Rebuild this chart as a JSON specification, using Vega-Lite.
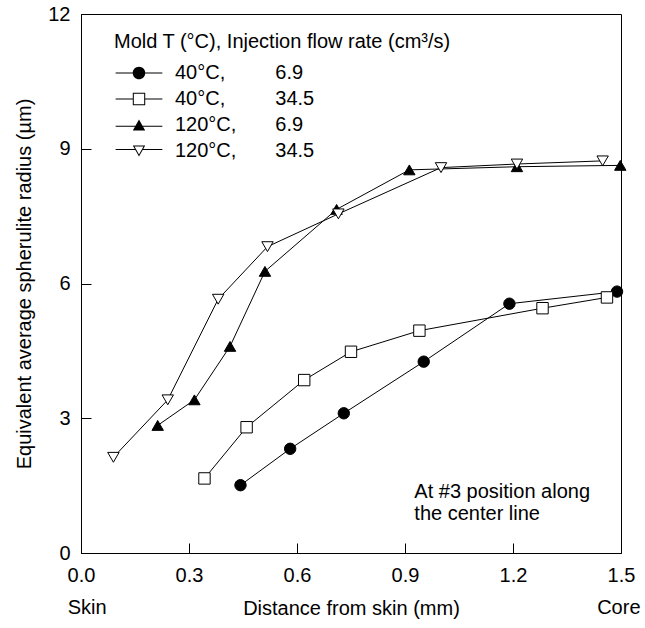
{
  "$schema": "https://vega.github.io/schema/vega-lite/v6.json",
  "width": 540,
  "height": 539,
  "autosize": {"type": "none"},
  "padding": {"left": 81, "top": 14, "right": 24, "bottom": 75},
  "background": "white",
  "config": {
    "font": "Liberation Sans",
    "view": {"stroke": "black", "strokeWidth": 1},
    "axis": {"domainColor": "black", "tickColor": "black", "labelColor": "black", "titleColor": "black", "grid": false, "labelFontSize": 20, "titleFontSize": 20, "titleFontWeight": "normal", "labelFont": "Liberation Sans", "titleFont": "Liberation Sans"}
  },
  "datasets": {
    "series": [
      {"series": "40°C, 6.9", "x": 0.443, "y": 1.51},
      {"series": "40°C, 6.9", "x": 0.581, "y": 2.32},
      {"series": "40°C, 6.9", "x": 0.730, "y": 3.11},
      {"series": "40°C, 6.9", "x": 0.952, "y": 4.26},
      {"series": "40°C, 6.9", "x": 1.190, "y": 5.55},
      {"series": "40°C, 6.9", "x": 1.489, "y": 5.82},
      {"series": "40°C, 34.5", "x": 0.343, "y": 1.66},
      {"series": "40°C, 34.5", "x": 0.460, "y": 2.80},
      {"series": "40°C, 34.5", "x": 0.620, "y": 3.85},
      {"series": "40°C, 34.5", "x": 0.750, "y": 4.48},
      {"series": "40°C, 34.5", "x": 0.940, "y": 4.95},
      {"series": "40°C, 34.5", "x": 1.282, "y": 5.45},
      {"series": "40°C, 34.5", "x": 1.461, "y": 5.69},
      {"series": "120°C, 6.9", "x": 0.213, "y": 2.84},
      {"series": "120°C, 6.9", "x": 0.315, "y": 3.41},
      {"series": "120°C, 6.9", "x": 0.414, "y": 4.60},
      {"series": "120°C, 6.9", "x": 0.511, "y": 6.27},
      {"series": "120°C, 6.9", "x": 0.710, "y": 7.65},
      {"series": "120°C, 6.9", "x": 0.912, "y": 8.53},
      {"series": "120°C, 6.9", "x": 1.211, "y": 8.60},
      {"series": "120°C, 6.9", "x": 1.498, "y": 8.63},
      {"series": "120°C, 34.5", "x": 0.090, "y": 2.13},
      {"series": "120°C, 34.5", "x": 0.241, "y": 3.41},
      {"series": "120°C, 34.5", "x": 0.381, "y": 5.65},
      {"series": "120°C, 34.5", "x": 0.518, "y": 6.82},
      {"series": "120°C, 34.5", "x": 0.715, "y": 7.55},
      {"series": "120°C, 34.5", "x": 1.000, "y": 8.58},
      {"series": "120°C, 34.5", "x": 1.211, "y": 8.66},
      {"series": "120°C, 34.5", "x": 1.449, "y": 8.73}
    ],
    "ends": [
      {"x": 0.017, "y": -1.22, "t": "Skin"},
      {"x": 1.494, "y": -1.22, "t": "Core"}
    ],
    "note": [
      {"x": 0.926, "y": 1.35, "t": "At #3 position along"},
      {"x": 0.926, "y": 0.86, "t": "the center line"}
    ]
  },
  "resolve": {"scale": {"shape": "independent"}},
  "layer": [
    {
      "data": {"name": "series"},
      "mark": {"type": "line", "color": "black", "strokeWidth": 1},
      "encoding": {
        "x": {"field": "x", "type": "quantitative", "scale": {"domain": [0, 1.5], "nice": false},
          "axis": {"values": [0, 0.3, 0.6, 0.9, 1.2, 1.5], "format": ".1f", "tickSize": -10, "labelPadding": 22, "labelFlush": false, "title": "Distance from skin (mm)", "titlePadding": 13}},
        "y": {"field": "y", "type": "quantitative", "scale": {"domain": [0, 12], "nice": false},
          "axis": {"values": [0, 3, 6, 9, 12], "tickSize": -10, "labelPadding": 21, "labelFlush": false, "title": "Equivalent average spherulite radius (µm)", "titlePadding": 13}},
        "detail": {"field": "series", "type": "nominal"}
      }
    },
    {
      "data": {"name": "series"},
      "mark": {"type": "point", "filled": true, "strokeWidth": 1, "size": 130, "opacity": 1},
      "encoding": {
        "x": {"field": "x", "type": "quantitative"},
        "y": {"field": "y", "type": "quantitative"},
        "shape": {"field": "series", "type": "nominal",
          "scale": {"domain": ["40°C, 6.9", "40°C, 34.5", "120°C, 6.9", "120°C, 34.5"], "range": ["circle", "square", "triangle-up", "triangle-down"]},
          "legend": null},
        "fill": {"field": "series", "type": "nominal",
          "scale": {"domain": ["40°C, 6.9", "40°C, 34.5", "120°C, 6.9", "120°C, 34.5"], "range": ["black", "white", "black", "white"]},
          "legend": null},
        "stroke": {"field": "series", "type": "nominal",
          "scale": {"domain": ["40°C, 6.9", "40°C, 34.5", "120°C, 6.9", "120°C, 34.5"], "range": ["black", "black", "black", "black"]},
          "legend": null}
      }
    },
    {
      "data": {"name": "series"},
      "transform": [{"filter": "false"}],
      "mark": {"type": "point", "filled": true, "strokeWidth": 1, "size": 130, "opacity": 1},
      "encoding": {
        "x": {"field": "x", "type": "quantitative"},
        "y": {"field": "y", "type": "quantitative"},
        "shape": {"field": "series", "type": "nominal",
          "scale": {"domain": ["40°C, 6.9", "40°C, 34.5", "120°C, 6.9", "120°C, 34.5"],
            "range": [
              "M-4.1,-0.088H-1V0.088H-4.1ZM1,-0.088H4.1V0.088H1ZM-1.1,0A1.1,1.1,0,1,1,1.1,0A1.1,1.1,0,1,1,-1.1,0Z",
              "M-4.1,-0.088H-1.09V0.088H-4.1ZM1.09,-0.088H4.1V0.088H1.09ZM-1.09,-1.09H1.09V1.09H-1.09ZM-0.91,-0.91V0.91H0.91V-0.91Z",
              "M-4.1,0.11H4.1V0.29H-4.1ZM0,-0.95L1.09,0.95H-1.09Z",
              "M-4.1,-0.36H-0.68V-0.18H-4.1ZM0.68,-0.36H4.1V-0.18H0.68ZM-1.09,-0.95H1.09L0,0.95ZM-0.788,-0.775L0,0.598L0.788,-0.775Z"
            ]},
          "legend": {
            "title": "Mold T (°C), Injection flow rate (cm³/s)",
            "orient": "none", "legendX": 33, "legendY": 18, "padding": 0,
            "titleFontSize": 20, "titleFontWeight": "normal", "titleColor": "black", "titleFont": "Liberation Sans", "titlePadding": 11, "titleLimit": 500,
            "labelFontSize": 20, "labelColor": "black", "labelFont": "Liberation Sans", "labelLimit": 500,
            "symbolSize": 130, "symbolOffset": 15, "labelOffset": 26, "rowPadding": 6, "symbolStrokeWidth": 0,
            "labelExpr": "indexof(datum.label, '120') == 0 ? replace(datum.label, ' ', '\u00a0\u00a0\u00a0\u00a0\u00a0\u00a0\u00a0') : replace(datum.label, ' ', '\u00a0\u00a0\u00a0\u00a0\u00a0\u00a0\u00a0\u00a0\u00a0')"
          }},
        "fill": {"field": "series", "type": "nominal", "legend": null},
        "stroke": {"field": "series", "type": "nominal", "legend": null}
      }
    },
    {
      "data": {"name": "ends"},
      "mark": {"type": "text", "fontSize": 20, "font": "Liberation Sans", "color": "black", "align": "center", "baseline": "middle"},
      "encoding": {
        "x": {"field": "x", "type": "quantitative"},
        "y": {"field": "y", "type": "quantitative"},
        "text": {"field": "t", "type": "nominal"}
      }
    },
    {
      "data": {"name": "note"},
      "mark": {"type": "text", "fontSize": 20, "font": "Liberation Sans", "color": "black", "align": "left", "baseline": "middle"},
      "encoding": {
        "x": {"field": "x", "type": "quantitative"},
        "y": {"field": "y", "type": "quantitative"},
        "text": {"field": "t", "type": "nominal"}
      }
    }
  ]
}
